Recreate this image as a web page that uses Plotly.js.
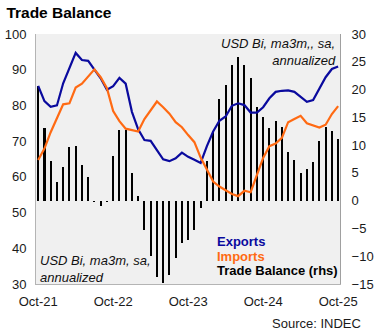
<!DOCTYPE html>
<html>
<head>
<meta charset="utf-8">
<script src="https://cdn.plot.ly/plotly-3.0.1.min.js"></script>
<style>
html,body{margin:0;padding:0;background:#fff;}
#chart{width:375px;height:333px;}
</style>
</head>
<body>
<div id="chart"></div>
<script>
const months = [
  "Oct-21","Nov-21","Dec-21",
  "Jan-22","Feb-22","Mar-22","Apr-22","May-22","Jun-22","Jul-22","Aug-22","Sep-22","Oct-22","Nov-22","Dec-22",
  "Jan-23","Feb-23","Mar-23","Apr-23","May-23","Jun-23","Jul-23","Aug-23","Sep-23","Oct-23","Nov-23","Dec-23",
  "Jan-24","Feb-24","Mar-24","Apr-24","May-24","Jun-24","Jul-24","Aug-24","Sep-24","Oct-24","Nov-24","Dec-24",
  "Jan-25","Feb-25","Mar-25","Apr-25","May-25","Jun-25","Jul-25","Aug-25","Sep-25","Oct-25"
];
const tickLabels = ["Oct-21","Oct-22","Oct-23","Oct-24","Oct-25"];

const exportsVals = [
  85.5, 81.2, 79.6,
  80.0, 86.2, 90.2, 94.7, 92.7, 92.5, 90.0, 87.6, 84.4, 85.4, 87.7, 86.1,
  78.2, 73.3, 70.3, 70.1, 67.5, 64.9, 64.4, 65.2, 66.8, 65.6, 64.8, 63.9,
  68.6, 72.7, 75.7, 76.9, 79.9, 80.6, 80.1, 78.0, 78.0, 79.5, 82.0, 83.8,
  84.1, 84.2, 83.8, 82.4, 81.0, 81.5, 84.7, 87.9, 90.2, 90.9
];
const importsVals = [
  64.7, 67.9, 72.5,
  76.4, 80.3, 80.6, 85.0, 86.1, 88.0, 90.1, 87.9, 84.8, 78.4, 75.6, 73.5,
  73.1, 72.7, 76.2, 78.7, 81.1, 79.5, 77.7, 75.3, 73.9, 71.7, 69.7, 65.4,
  62.2, 58.7, 57.3, 56.2, 55.2, 54.6, 56.1, 55.7, 60.8, 65.3, 68.6, 69.3,
  70.9, 75.3, 76.2, 77.1, 75.0, 74.5, 73.8, 74.6, 77.6, 79.8
];
const balanceVals = [
  20.6, 13.0, 7.1,
  3.3, 6.0, 9.7, 9.8, 6.4, 4.2, -0.3, -1.0, -0.2, 8.0, 12.7, 12.7,
  5.0, 0.8, -5.2, -10.0, -13.8, -14.8, -13.4, -10.3, -7.6, -7.0, -5.2, -1.3,
  7.1, 12.5, 18.3, 20.8, 24.4, 25.8, 24.4, 22.0, 16.8, 15.0, 13.1, 14.3,
  13.3, 8.8, 7.3, 4.9, 5.7, 6.9, 10.7, 13.3, 12.5, 11.1
];

const FONT = "Liberation Sans, Arial, sans-serif";

const traces = [
  {
    type: "bar", x: months, y: balanceVals, yaxis: "y",
    marker: {color: "#000000"}, width: 0.34, name: "Trade Balance (rhs)",
    hoverinfo: "x+y"
  },
  {
    type: "scatter", mode: "lines", x: months, y: exportsVals, yaxis: "y2",
    line: {color: "#0a0a9e", width: 2.2}, name: "Exports"
  },
  {
    type: "scatter", mode: "lines", x: months, y: importsVals, yaxis: "y2",
    line: {color: "#ff6a13", width: 2.2}, name: "Imports"
  }
];

const layout = {
  width: 375, height: 333,
  margin: {l: 35.5, r: 34.5, t: 33.5, b: 48.5, pad: 0},
  paper_bgcolor: "#ffffff",
  plot_bgcolor: "#f0f0f0",
  showlegend: false,
  bargap: 0,
  font: {family: FONT, size: 13, color: "#1a1a1a"},
  title: {
    text: "<b>Trade Balance</b>",
    font: {family: FONT, size: 15.5, color: "#000"},
    xref: "container", yref: "container",
    x: 0.017, xanchor: "left", y: 0.963, yanchor: "middle"
  },
  xaxis: {
    type: "category",
    range: [-0.35, 48.3],
    tickmode: "array", tickvals: tickLabels, ticktext: tickLabels,
    ticks: "", showgrid: false, zeroline: false,
    showline: true, linecolor: "#b4b4b4", linewidth: 1,
    tickfont: {family: FONT, size: 13, color: "#1a1a1a"},
    ticklabelstandoff: 5
  },
  yaxis: {
    side: "right",
    range: [-15, 30], dtick: 5, tick0: 0,
    ticks: "", showgrid: false, zeroline: false,
    showline: true, linecolor: "#a0a0a0", linewidth: 1,
    tickfont: {family: FONT, size: 13, color: "#1a1a1a"},
    ticklabelstandoff: 8
  },
  yaxis2: {
    side: "left", overlaying: "y",
    range: [30, 100], dtick: 10, tick0: 0,
    ticks: "", showgrid: false, zeroline: false,
    showline: true, linecolor: "#b4b4b4", linewidth: 1,
    tickfont: {family: FONT, size: 13, color: "#1a1a1a"},
    ticklabelstandoff: 6
  },
  annotations: [
    {
      xref: "paper", yref: "paper", x: 0.995, y: 0.926,
      xanchor: "right", yanchor: "middle", align: "right", showarrow: false,
      text: "<i>USD Bi, ma3m,, sa,<br>annualized</i>",
      font: {family: FONT, size: 13, color: "#111"}
    },
    {
      xref: "paper", yref: "paper", x: 0.007, y: 0.060,
      xanchor: "left", yanchor: "middle", align: "left", showarrow: false,
      text: "<i>USD Bi, ma3m, sa,<br>annualized</i>",
      font: {family: FONT, size: 13, color: "#111"}
    },
    {
      xref: "paper", yref: "paper", x: 0.589, y: 0.171,
      xanchor: "left", yanchor: "middle", showarrow: false,
      text: "<b>Exports</b>",
      font: {family: FONT, size: 13, color: "#0a0a9e"}
    },
    {
      xref: "paper", yref: "paper", x: 0.589, y: 0.111,
      xanchor: "left", yanchor: "middle", showarrow: false,
      text: "<b>Imports</b>",
      font: {family: FONT, size: 13, color: "#ff6a13"}
    },
    {
      xref: "paper", yref: "paper", x: 0.589, y: 0.054,
      xanchor: "left", yanchor: "middle", showarrow: false,
      text: "<b>Trade Balance (rhs)</b>",
      font: {family: FONT, size: 13, color: "#000"}
    },
    {
      xref: "paper", yref: "paper", x: 1.077, y: -0.157,
      xanchor: "right", yanchor: "middle", showarrow: false,
      text: "Source: INDEC",
      font: {family: FONT, size: 13, color: "#1a1a1a"}
    }
  ]
};

Plotly.newPlot("chart", traces, layout, {displayModeBar: false, staticPlot: true});
</script>
</body>
</html>
